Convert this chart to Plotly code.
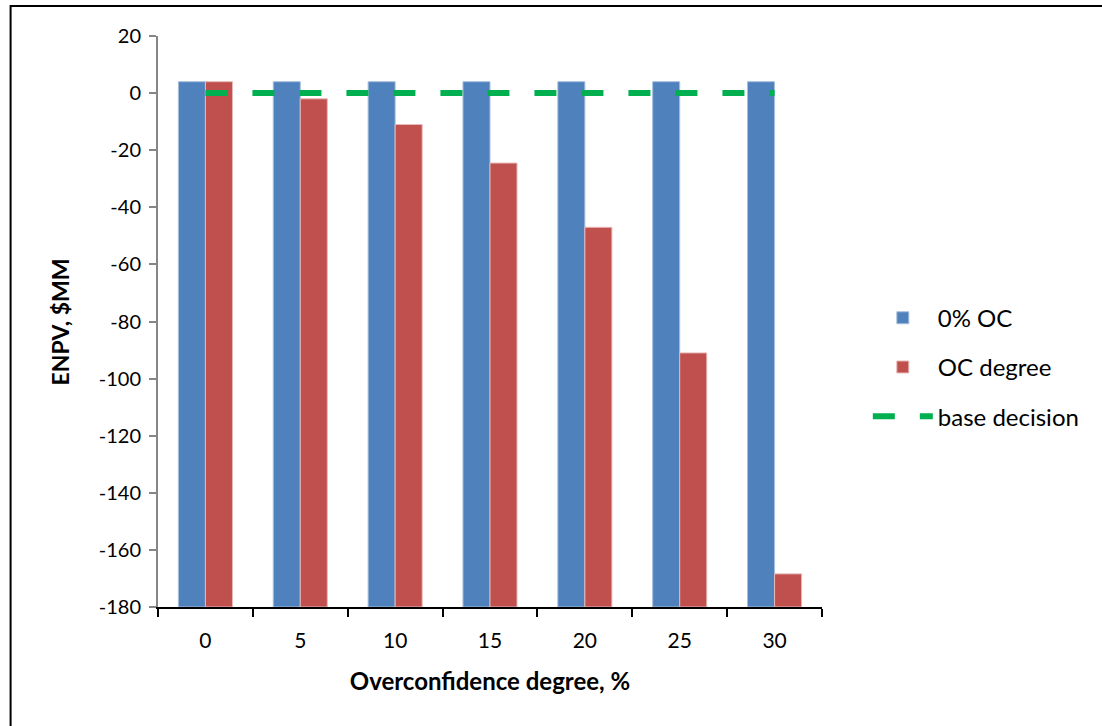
import plotly.graph_objects as go

categories = ["0", "5", "10", "15", "20", "25", "30"]
oc0_values = [4, 4, 4, 4, 4, 4, 4]
oc_degree_values = [4, -2, -11, -24.5, -47, -91, -168.4]
base_decision = [0, 0, 0, 0, 0, 0, 0]
y_tick_vals = [20, 0, -20, -40, -60, -80, -100, -120, -140, -160, -180]
y_tick_text = ["20", "0", "-20", "-40", "-60", "-80", "-100", "-120", "-140", "-160", "-180"]

AXIS_BASE = -180
FONT = "Lato, 'Open Sans', sans-serif"

fig = go.Figure()
fig.add_trace(go.Bar(
    x=categories, y=[v - AXIS_BASE for v in oc0_values], base=AXIS_BASE,
    name="0% OC", marker=dict(color="#4F81BD", line=dict(color="#A7BFDE", width=1)),
    legendgroup="a",
))
fig.add_trace(go.Bar(
    x=categories, y=[v - AXIS_BASE for v in oc_degree_values], base=AXIS_BASE,
    name="OC degree", marker=dict(color="#C0504D", line=dict(color="#E6B9B8", width=1)),
    legendgroup="b",
))
fig.add_trace(go.Scatter(
    x=categories, y=base_decision, mode="lines", name="base decision",
    line=dict(color="#00B050", width=6, dash="22px,25px"),
    legendgroup="c",
))

fig.update_layout(
    width=1102, height=726,
    paper_bgcolor="white", plot_bgcolor="white",
    margin=dict(l=158, r=280, t=36, b=119),
    barmode="group", bargap=0.43, bargroupgap=0,
    font=dict(family=FONT, size=19, color="black"),
    showlegend=True,
    legend=dict(
        x=1.069, y=0.42, xanchor="left", yanchor="middle",
        font=dict(size=24, family=FONT), traceorder="grouped",
        tracegroupgap=15, itemwidth=60, bgcolor="rgba(0,0,0,0)",
    ),
    xaxis=dict(
        type="category", showline=True, linecolor="black", linewidth=2,
        ticks="outside", tickson="boundaries", ticklen=8, tickcolor="black", tickwidth=2,
        showgrid=False, zeroline=False,
        tickfont=dict(size=21), ticklabelstandoff=14,
        title=dict(text="<b>Overconfidence degree, %</b>", font=dict(size=24), standoff=22),
    ),
    yaxis=dict(
        range=[-180, 20], tickvals=y_tick_vals, ticktext=y_tick_text,
        showline=True, linecolor="#868686", linewidth=2,
        ticks="outside", ticklen=7, tickcolor="#868686", tickwidth=2,
        showgrid=False, zeroline=False,
        tickfont=dict(size=20), ticklabelstandoff=4,
    ),
    annotations=[dict(
        text="<b>ENPV, $MM</b>", xref="paper", yref="paper",
        x=-0.1476, y=0.5, xanchor="center", yanchor="middle",
        textangle=-90, showarrow=False, font=dict(size=23, family=FONT),
    )],
    shapes=[dict(
        type="rect", xref="paper", yref="paper",
        x0=-0.222, x1=2.0, y0=-0.5, y1=1.0525,
        line=dict(color="black", width=2), fillcolor="rgba(0,0,0,0)", layer="below",
    )],
)

fig.write_html(
    "out.html",
    config={"displayModeBar": False},
    post_script="document.body.style.margin='0';document.body.style.overflow='hidden';",
)
